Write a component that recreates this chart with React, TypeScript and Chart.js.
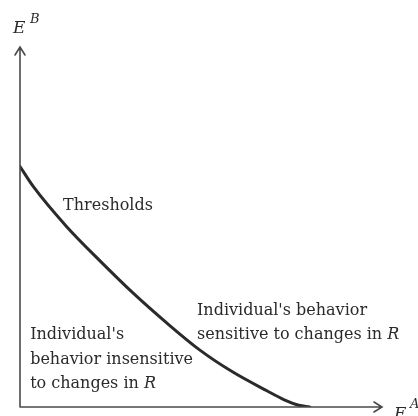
import React, { useEffect, useRef } from "react";
import { Chart, registerables } from "chart.js";

Chart.register(...registerables);

const curveX = [0, 3.7, 12.9, 22.1, 31.2, 40.6, 49.7, 58.8, 68.2, 73.0, 77.0, 80.0];
const curveY = [66.8, 61.2, 50.1, 40.6, 31.7, 23.3, 15.8, 9.7, 4.5, 2.0, 0.5, 0];

const FONT = "'DejaVu Serif', serif";
const INK = "#2a2a2a";
const SIZE = 16;

const annotations = {
  id: "annotations",
  afterDraw(chart: any) {
    const ctx = chart.ctx as CanvasRenderingContext2D;
    const xs = chart.scales.x;
    const ys = chart.scales.y;
    const x0 = xs.getPixelForValue(0);
    const y0 = ys.getPixelForValue(0);
    const xEnd = xs.getPixelForValue(100);
    const yEnd = ys.getPixelForValue(100);
    ctx.save();
    // axes
    ctx.strokeStyle = "#4a4a4a";
    ctx.lineWidth = 1.6;
    ctx.lineCap = "round";
    ctx.beginPath();
    ctx.moveTo(x0, y0);
    ctx.lineTo(x0, yEnd);
    ctx.moveTo(x0, y0);
    ctx.lineTo(xEnd, y0);
    // arrow heads
    ctx.moveTo(x0 - 5, yEnd + 8);
    ctx.lineTo(x0, yEnd);
    ctx.lineTo(x0 + 5, yEnd + 8);
    ctx.moveTo(xEnd - 8, y0 - 5);
    ctx.lineTo(xEnd, y0);
    ctx.lineTo(xEnd - 8, y0 + 5);
    ctx.stroke();

    ctx.fillStyle = INK;
    ctx.textBaseline = "middle";
    ctx.textAlign = "left";
    const txt = (s: string, xv: number, yv: number, italicTail?: string) => {
      const px = xs.getPixelForValue(xv);
      const py = ys.getPixelForValue(yv);
      ctx.font = `${SIZE}px ${FONT}`;
      ctx.fillText(s, px, py);
      if (italicTail) {
        const w = ctx.measureText(s).width;
        ctx.font = `italic ${SIZE}px ${FONT}`;
        ctx.fillText(italicTail, px + w, py);
      }
    };
    txt("Thresholds", 11.9, 55.8);
    txt("Individual's behavior", 48.9, 26.7);
    txt("sensitive to changes in ", 48.9, 20, "R");
    txt("Individual's", 2.8, 20);
    txt("behavior insensitive", 2.8, 13.1);
    txt("to changes in ", 2.8, 6.4, "R");

    // axis titles
    ctx.textBaseline = "alphabetic";
    ctx.font = `italic 17px ${FONT}`;
    ctx.fillText("E", x0 - 7, yEnd - 14);
    ctx.font = `italic 13px ${FONT}`;
    ctx.fillText("B", x0 + 10, yEnd - 24);
    ctx.font = `italic 17px ${FONT}`;
    ctx.fillText("E", xEnd + 12, y0 + 12);
    ctx.font = `italic 13px ${FONT}`;
    ctx.fillText("A", xEnd + 28, y0 + 1);
    ctx.restore();
  },
};

export default function App() {
  const ref = useRef<HTMLCanvasElement>(null);
  useEffect(() => {
    if (!ref.current) return;
    const chart = new Chart(ref.current, {
      type: "line",
      data: {
        datasets: [
          {
            data: curveX.map((x, i) => ({ x, y: curveY[i] })),
            borderColor: INK,
            borderWidth: 3,
            pointRadius: 0,
            cubicInterpolationMode: "monotone",
            borderCapStyle: "round",
            fill: false,
          },
        ],
      },
      options: {
        responsive: false,
        animation: false,
        layout: { padding: { left: 20, right: 36, top: 47, bottom: 9 } },
        plugins: { legend: { display: false }, tooltip: { enabled: false } },
        scales: {
          x: { type: "linear", min: 0, max: 100, display: false },
          y: { type: "linear", min: 0, max: 100, display: false },
        },
      },
      plugins: [annotations],
    });
    return () => chart.destroy();
  }, []);
  return (
    <div style={{ position: "fixed", left: 0, top: 0, width: 418, height: 416, background: "#fff" }}>
      <canvas ref={ref} width={418} height={416} />
    </div>
  );
}
